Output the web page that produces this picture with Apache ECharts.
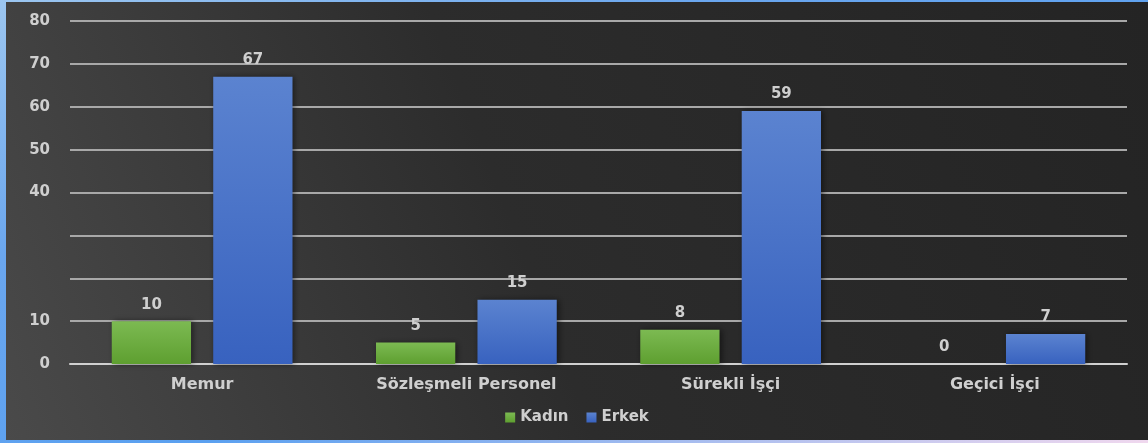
<!DOCTYPE html>
<html><head><meta charset="utf-8">
<script src="https://cdn.jsdelivr.net/npm/echarts@6/dist/echarts.min.js"></script>
<style>
html,body{margin:0;padding:0;width:1148px;height:443px;overflow:hidden;
background:linear-gradient(160deg,#9cc6f0 0%,#6aa6ee 30%,#5aa0f0 60%,#f0d8ee 100%);}
#c{position:absolute;left:6px;top:2px;width:1142px;height:438px;}
</style></head><body>
<div id="c"></div>
<script>
const categories = ["Memur", "Sözleşmeli Personel", "Sürekli İşçi", "Geçici İşçi"];
const kadin = [10, 5, 8, 0];
const erkek = [67, 15, 59, 7];
const seriesNames = ["Kadın", "Erkek"];
const yTickLabels = {0:"0",10:"10",40:"40",50:"50",60:"60",70:"70",80:"80"};

const chart = echarts.init(document.getElementById('c'));
const txt = '#cfcfcf';
const font = '"DejaVu Sans", "Noto Sans", sans-serif';
const ts = {color:txt,fontSize:16,fontWeight:'bold',fontFamily:font};
chart.setOption({
  backgroundColor: new echarts.graphic.LinearGradient(1,0,0,1,[
    {offset:0,color:'#242424'},{offset:0.55,color:'#2c2c2c'},{offset:1,color:'#4a4a4a'}]),
  textStyle:{fontFamily:font},
  grid:{left:64,right:21,top:19,bottom:76},
  legend:{bottom:10,left:'center',itemWidth:10,itemHeight:10,itemGap:18,icon:'rect',
    textStyle:Object.assign({},ts,{fontSize:15}),data:seriesNames},
  xAxis:{type:'category',data:categories,
    axisLine:{lineStyle:{color:'#d0d0d0',width:2}},axisTick:{show:false},
    axisLabel:Object.assign({margin:13},ts)},
  yAxis:{type:'value',min:0,max:80,interval:10,
    axisLine:{show:false},axisTick:{show:false},
    splitLine:{lineStyle:{color:'#a8a8a8',width:2}},
    axisLabel:Object.assign({margin:20,formatter:v=>yTickLabels[v]!==undefined?yTickLabels[v]:''},ts,{fontSize:15})},
  series:[
    {name:seriesNames[0],type:'bar',data:kadin,barWidth:'30%',barGap:'28%',
     itemStyle:{color:new echarts.graphic.LinearGradient(0,0,0,1,[{offset:0,color:'#7cba52'},{offset:1,color:'#5e9f30'}]),
       shadowColor:'rgba(0,0,0,0.5)',shadowBlur:6,shadowOffsetX:2},
     label:Object.assign({show:true,position:'top',distance:9},ts,{fontSize:15})},
    {name:seriesNames[1],type:'bar',data:erkek,barWidth:'30%',
     itemStyle:{color:new echarts.graphic.LinearGradient(0,0,0,1,[{offset:0,color:'#5b83d0'},{offset:1,color:'#3862bf'}]),
       shadowColor:'rgba(0,0,0,0.5)',shadowBlur:6,shadowOffsetX:2},
     label:Object.assign({show:true,position:'top',distance:9},ts,{fontSize:15})}
  ]
});
</script></body></html>
